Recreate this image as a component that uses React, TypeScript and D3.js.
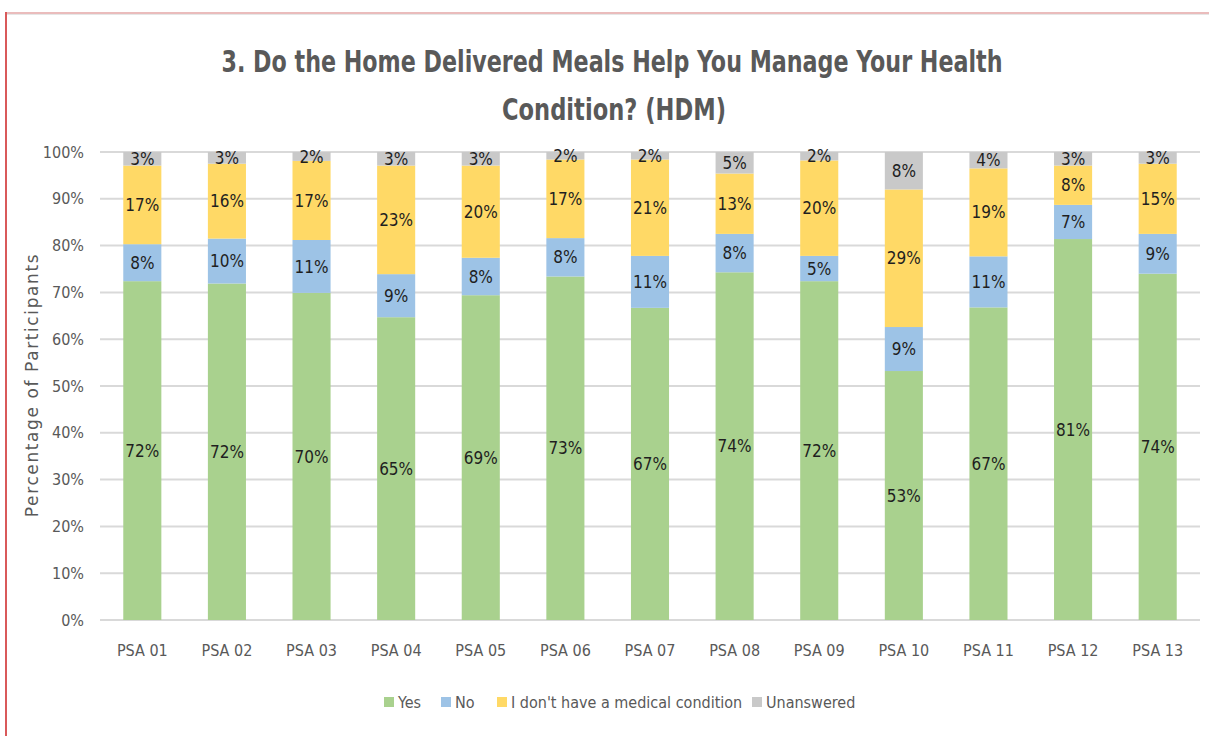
import { useEffect, useRef } from "react";
import * as d3 from "d3";

const categories = ["PSA 01", "PSA 02", "PSA 03", "PSA 04", "PSA 05", "PSA 06", "PSA 07", "PSA 08", "PSA 09", "PSA 10", "PSA 11", "PSA 12", "PSA 13"];
const yesValues = [72.4, 71.9, 69.9, 64.7, 69.4, 73.4, 66.7, 74.3, 72.4, 53.2, 66.8, 81.4, 74.0];
const noValues = [7.9, 9.6, 11.3, 9.2, 8.0, 8.2, 11.1, 8.2, 5.4, 9.4, 10.9, 7.3, 8.5];
const noConditionValues = [16.8, 16.0, 16.9, 23.2, 19.7, 16.8, 20.6, 12.9, 20.4, 29.4, 18.8, 8.4, 15.0];
const unansweredValues = [2.9, 2.5, 1.9, 2.9, 2.9, 1.6, 1.6, 4.6, 1.8, 8.0, 3.5, 2.9, 2.5];
const seriesNames = ["Yes", "No", "I don't have a medical condition", "Unanswered"];
const seriesColors = ["#a9d18e", "#9dc3e6", "#ffd966", "#c9c9c9"];
const yTicks = [0, 10, 20, 30, 40, 50, 60, 70, 80, 90, 100];

const W = 1209;
const H = 736;
const margin = { top: 152, right: 9, bottom: 116, left: 100 };
const font = "'DejaVu Sans Condensed', 'Roboto', sans-serif";

const App = () => {
  const ref = useRef<SVGSVGElement>(null);

  useEffect(() => {
    const svg = d3.select(ref.current);
    svg.selectAll("*").remove();

    // page border (only left & top visible in the screenshot)
    svg.append("line").attr("x1", 6).attr("x2", W).attr("y1", 13).attr("y2", 13)
      .attr("stroke", "#e3a6a6").attr("stroke-width", 1.5);
    svg.append("line").attr("x1", 6).attr("x2", W).attr("y1", 14.5).attr("y2", 14.5)
      .attr("stroke", "#e6e6e6").attr("stroke-width", 1);
    svg.append("line").attr("x1", 6).attr("x2", 6).attr("y1", 12).attr("y2", H)
      .attr("stroke", "#d9595a").attr("stroke-width", 2);

    const innerW = W - margin.left - margin.right;
    const innerH = H - margin.top - margin.bottom;

    const x = d3.scaleBand().domain(categories).range([0, innerW]).paddingInner(0.55).paddingOuter(0.275);
    const y = d3.scaleLinear().domain([0, 100]).range([innerH, 0]);

    const rows = categories.map((c, i) => ({
      cat: c,
      Yes: yesValues[i],
      No: noValues[i],
      "I don't have a medical condition": noConditionValues[i],
      Unanswered: unansweredValues[i],
    }));
    const stacked = d3.stack<any>().keys(seriesNames)(rows);

    const g = svg.append("g").attr("transform", `translate(${margin.left},${margin.top})`);

    // gridlines
    g.selectAll(".grid").data(yTicks).enter().append("line")
      .attr("x1", 0).attr("x2", innerW)
      .attr("y1", (d) => y(d)).attr("y2", (d) => y(d))
      .attr("stroke", "#d9d9d9").attr("stroke-width", 2);

    // y tick labels
    g.selectAll(".ytick").data(yTicks).enter().append("text")
      .attr("x", -16).attr("y", (d) => y(d)).attr("dy", "0.35em")
      .attr("text-anchor", "end")
      .style("font-family", font).style("font-size", "16px").attr("fill", "#595959")
      .text((d) => d + "%");

    // bars
    const layer = g.selectAll(".layer").data(stacked).enter().append("g")
      .attr("fill", (d, i) => seriesColors[i]);
    layer.selectAll("rect").data((d) => d).enter().append("rect")
      .attr("x", (d: any) => x(d.data.cat)!)
      .attr("width", x.bandwidth())
      .attr("y", (d) => y(d[1]))
      .attr("height", (d) => y(d[0]) - y(d[1]));

    // segment labels
    layer.selectAll("text").data((d) => d).enter().append("text")
      .attr("x", (d: any) => x(d.data.cat)! + x.bandwidth() / 2)
      .attr("y", (d) => (y(d[0]) + y(d[1])) / 2)
      .attr("dy", "0.36em")
      .attr("text-anchor", "middle")
      .style("font-family", font).style("font-size", "17px").attr("fill", "#1f1f1f")
      .text((d) => Math.round(d[1] - d[0]) + "%");

    // x labels
    g.selectAll(".xlab").data(categories).enter().append("text")
      .attr("x", (d) => x(d)! + x.bandwidth() / 2)
      .attr("y", innerH + 36)
      .attr("text-anchor", "middle")
      .style("font-family", font).style("font-size", "16px").attr("fill", "#595959")
      .text((d) => d);

    // axis title
    svg.append("text")
      .attr("transform", "translate(38,385) rotate(-90)")
      .attr("text-anchor", "middle")
      .style("font-family", "'DejaVu Sans', sans-serif").style("font-size", "17px")
      .style("letter-spacing", "1.6px").attr("fill", "#595959")
      .text("Percentage of Participants");

    // title
    const title = svg.append("text").attr("text-anchor", "middle")
      .style("font-family", font).style("font-size", "31px").style("font-weight", "bold").attr("fill", "#595959");
    title.append("tspan").attr("x", 612).attr("y", 72)
      .attr("textLength", 781).attr("lengthAdjust", "spacingAndGlyphs")
      .text("3. Do the Home Delivered Meals Help You Manage Your Health");
    title.append("tspan").attr("x", 614).attr("y", 120)
      .attr("textLength", 224).attr("lengthAdjust", "spacingAndGlyphs")
      .text("Condition? (HDM)");

    // legend
    const legendX = [384, 441, 497, 752];
    const lg = svg.selectAll(".legend").data(seriesNames).enter().append("g")
      .attr("transform", (d, i) => `translate(${legendX[i]},697)`);
    lg.append("rect").attr("width", 10).attr("height", 10).attr("fill", (d, i) => seriesColors[i]);
    lg.append("text").attr("x", 14).attr("y", 5).attr("dy", "0.35em")
      .style("font-family", font).style("font-size", "16px").attr("fill", "#595959")
      .text((d) => d);
  }, []);

  return (
    <svg ref={ref} width={W} height={H}
      style={{ position: "absolute", left: 0, top: 0, background: "#fff" }} />
  );
};

export default App;
